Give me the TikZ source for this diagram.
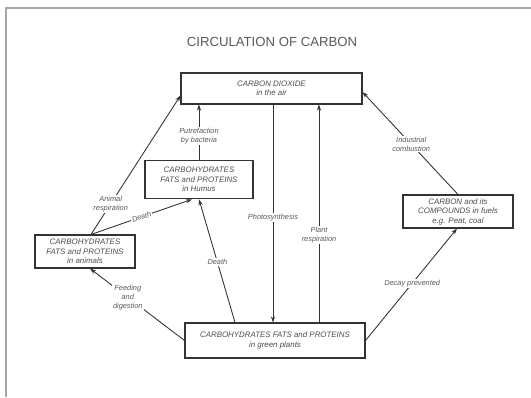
\documentclass[tikz,border=0pt]{standalone}
\usepackage{fontspec}
\setmainfont{Liberation Sans}
\usetikzlibrary{calc,arrows.meta}

\tikzset{
  box/.style={draw=black!80, line width=0.6pt, align=center, inner sep=1pt,
    font=\fontsize{4.5}{5.4}\selectfont\itshape, text=black!70},
  lbl/.style={fill=white, inner sep=0.6pt, align=center,
    font=\fontsize{4.2}{5}\selectfont\itshape, text=black!65},
  arr/.style={draw=black!80, line width=0.5pt, -{Stealth[length=3.5pt,width=2.4pt]}},
}

\begin{document}
\begin{tikzpicture}[x=0.02cm,y=-0.02cm]
        \useasboundingbox (0,0) rectangle (531,397);
        % рамка скану
        \draw[black!35, line width=0.8pt] (531,8) -- (6,8) -- (6,397);

        \node[font=\fontsize{7.5}{9}\selectfont, text=black!65] (title) at (272,42) {CIRCULATION OF CARBON};

        % блоки
        \node[box, minimum width=3.62cm, minimum height=0.62cm] (co2) at (271.5,88.5) {CARBON DIOXIDE\\in the air};
        \node[box, line width=0.9pt, minimum width=2.16cm, minimum height=0.76cm] (humus) at (199,179.5) {CARBOHYDRATES\\FATS and PROTEINS\\in Humus};
        \node[box, minimum width=2.0cm, minimum height=0.66cm] (animals) at (85,251.5) {CARBOHYDRATES\\FATS and PROTEINS\\in animals};
        \node[box, minimum width=2.2cm, minimum height=0.66cm] (fuels) at (458,211.5) {CARBON and its\\COMPOUNDS in fuels\\e.g. Peat, coal};
        \node[box, minimum width=3.6cm, minimum height=0.7cm] (plants) at (275,340.5) {CARBOHYDRATES FATS and PROTEINS\\in green plants};

        % допоміжні точки
        \coordinate (xphoto) at (273,0);
        \coordinate (xresp) at (319,0);
        \coordinate (A) at ($(animals.north)+(6,0)$); % спільний початок

        % стрілки
        \draw[arr] (co2.south -| xphoto) -- (plants.north -| xphoto) node[lbl, pos=0.52] {Photosynthesis};
        \draw[arr] (plants.north -| xresp) -- (co2.south -| xresp) node[lbl, pos=0.40] {Plant\\respiration};
        \draw[arr] (humus.north) -- (co2.south -| humus.north) node[lbl, pos=0.43] {Putrefaction\\by bacteria};
        \draw[arr] (A) -- ($(co2.west)+(0,7)$) node[lbl, pos=0.22] {Animal\\respiration};
        \draw[arr] (A) -- ($(humus.south)+(-7,0)$) node[lbl, pos=0.5, sloped] {Death};
        \draw[arr] ($(plants.north)+(-40,0)$) -- (humus.south) node[lbl, pos=0.49] {Death};
        \draw[arr] (plants.west) -- ($(animals.south)+(5,0)$) node[lbl, pos=0.6] {Feeding\\and\\digestion};
        \draw[arr] (plants.east) -- ($(fuels.south)+(-1,0)$) node[lbl, pos=0.51] {Decay prevented};
        \draw[arr] (fuels.north) -- ($(co2.east)+(0,3.5)$) node[lbl, pos=0.49] {Industrial\\combustion};
\end{tikzpicture}
\end{document}
